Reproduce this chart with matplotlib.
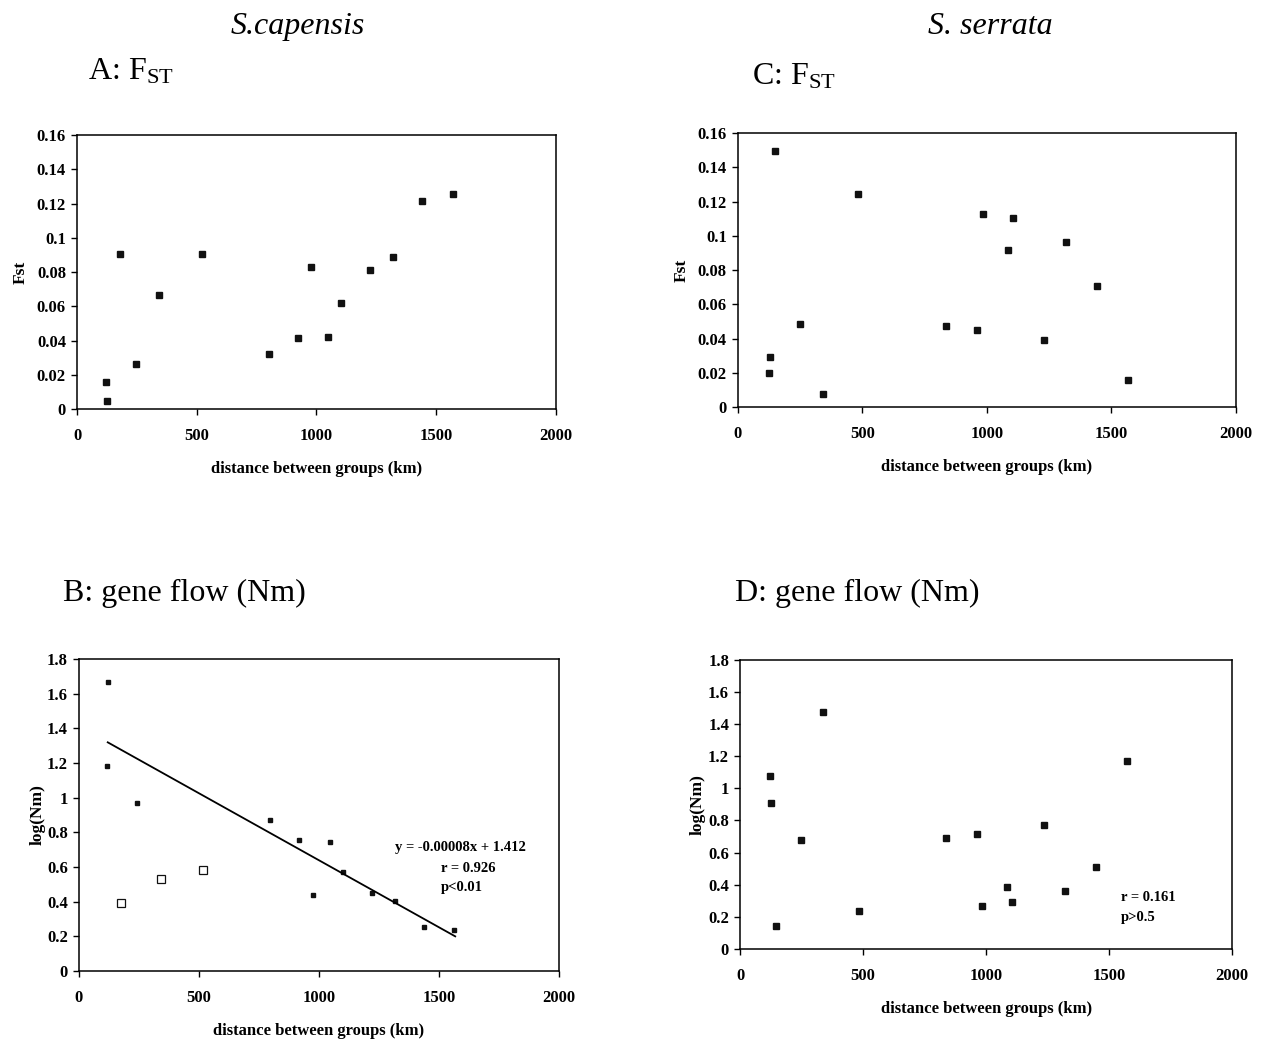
import matplotlib

matplotlib.use("Agg")
import matplotlib.pyplot as plt
import numpy as np
from matplotlib.ticker import FuncFormatter, MultipleLocator

# S. capensis, panel A (Fst)
dist_a = [122, 124, 178, 246, 342, 522, 800, 923, 978, 1047, 1101, 1225, 1321, 1442, 1569]
fst_a = [0.0156, 0.0049, 0.0907, 0.0261, 0.0667, 0.0907, 0.0321, 0.0415, 0.0827,
         0.0422, 0.0619, 0.0810, 0.0888, 0.1215, 0.1255]

# S. capensis, panel B (log Nm); filled and open symbols
dist_b = [122, 118, 244, 796, 918, 1046, 976, 1099, 1222, 1318, 1439, 1564]
lognm_b = [1.666, 1.183, 0.967, 0.869, 0.756, 0.747, 0.437, 0.574, 0.448, 0.406, 0.255, 0.237]
dist_b_open = [175, 340, 519]
lognm_b_open = [0.394, 0.532, 0.580]
fit_range_b = [120, 1568]
fit_slope_b = -0.000773
fit_icpt_b = 1.412

# S. serrata, panel C (Fst)
dist_c = [147, 128, 125, 251, 341, 484, 838, 960, 983, 1085, 1104, 1230, 1320, 1442, 1569]
fst_c = [0.1497, 0.0291, 0.0201, 0.0486, 0.0078, 0.1245, 0.0476, 0.0451, 0.1130,
         0.0917, 0.1102, 0.0390, 0.0966, 0.0706, 0.0158]

# S. serrata, panel D (log Nm)
dist_d = [123, 127, 146, 248, 338, 483, 838, 961, 985, 1086, 1107, 1234, 1321, 1446, 1572]
lognm_d = [1.074, 0.911, 0.146, 0.678, 1.477, 0.237, 0.689, 0.716, 0.270, 0.387,
           0.295, 0.772, 0.358, 0.508, 1.171]

SERIF = ["Liberation Serif", "DejaVu Serif"]
plt.rcParams["font.family"] = SERIF
plt.rcParams["mathtext.fontset"] = "custom"
plt.rcParams["mathtext.rm"] = "Liberation Serif"
plt.rcParams["mathtext.it"] = "Liberation Serif:italic"

fig = plt.figure(figsize=(12.63, 10.45), dpi=100)


def style_axis(ax, ymax, ystep, ylabel, ylabelpad):
    ax.set_xlim(0, 2000)
    ax.set_ylim(0, ymax)
    ax.xaxis.set_major_locator(MultipleLocator(500))
    ax.yaxis.set_major_locator(MultipleLocator(ystep))
    ax.yaxis.set_major_formatter(FuncFormatter(lambda v, _: f"{round(v, 3):g}"))
    ax.tick_params(direction="out", length=4, width=1, labelsize=12)
    ax.tick_params(axis="x", pad=10)
    ax.tick_params(axis="y", pad=4)
    for lab in ax.get_xticklabels() + ax.get_yticklabels():
        lab.set_fontweight("bold")
    for sp in ax.spines.values():
        sp.set_linewidth(1.1)
    ax.set_xlabel("distance between groups (km)", fontsize=12, fontweight="bold", labelpad=12)
    ax.set_ylabel(ylabel, fontsize=12.5, fontweight="bold", labelpad=ylabelpad)


sq = dict(marker="s", linestyle="none", color="#111111")

ax_a = fig.add_axes([0.061, 0.6086, 0.379, 0.262])
ax_a.plot(dist_a, fst_a, markersize=4.4, **sq)
style_axis(ax_a, 0.16, 0.02, "Fst", 6)

ax_c = fig.add_axes([0.5843, 0.6105, 0.394, 0.262])
ax_c.plot(dist_c, fst_c, markersize=4.4, **sq)
style_axis(ax_c, 0.16, 0.02, "Fst", 6)

ax_b = fig.add_axes([0.0625, 0.0708, 0.380, 0.2986])
ax_b.plot(dist_b, lognm_b, markersize=3.2, **sq)
ax_b.plot(dist_b_open, lognm_b_open, marker="s", linestyle="none", markersize=5.5,
          markerfacecolor="white", markeredgecolor="#111111", markeredgewidth=0.9)
fit_x = np.array(fit_range_b)
ax_b.plot(fit_x, fit_icpt_b + fit_slope_b * fit_x, color="black", linewidth=1.3)
style_axis(ax_b, 1.8, 0.2, "log(Nm)", 1)
ax_b.text(1317, 0.71, "y = -0.00008x + 1.412", fontsize=10.5, fontweight="bold", va="center")
ax_b.text(1508, 0.594, "r = 0.926", fontsize=10.5, fontweight="bold", va="center")
ax_b.text(1508, 0.479, "p<0.01", fontsize=10.5, fontweight="bold", va="center")

ax_d = fig.add_axes([0.586, 0.0919, 0.3896, 0.2766])
ax_d.plot(dist_d, lognm_d, markersize=4.4, **sq)
style_axis(ax_d, 1.8, 0.2, "log(Nm)", 2)
ax_d.text(1549, 0.318, "r = 0.161", fontsize=10.5, fontweight="bold", va="center")
ax_d.text(1549, 0.193, "p>0.5", fontsize=10.5, fontweight="bold", va="center")

fig.text(0.236, 0.975, "S.capensis", fontsize=23, style="italic", ha="center", va="center")
fig.text(0.784, 0.975, "S. serrata", fontsize=23, style="italic", ha="center", va="center")
fig.text(0.0697, 0.931, r"A: F$_{\mathrm{ST}}$", fontsize=23, va="center")
fig.text(0.5954, 0.927, r"C: F$_{\mathrm{ST}}$", fontsize=23, va="center")
fig.text(0.050, 0.4325, "B: gene flow (Nm)", fontsize=23, va="center")
fig.text(0.582, 0.4325, "D: gene flow (Nm)", fontsize=23, va="center")

fig.savefig("out.png", dpi=100)
